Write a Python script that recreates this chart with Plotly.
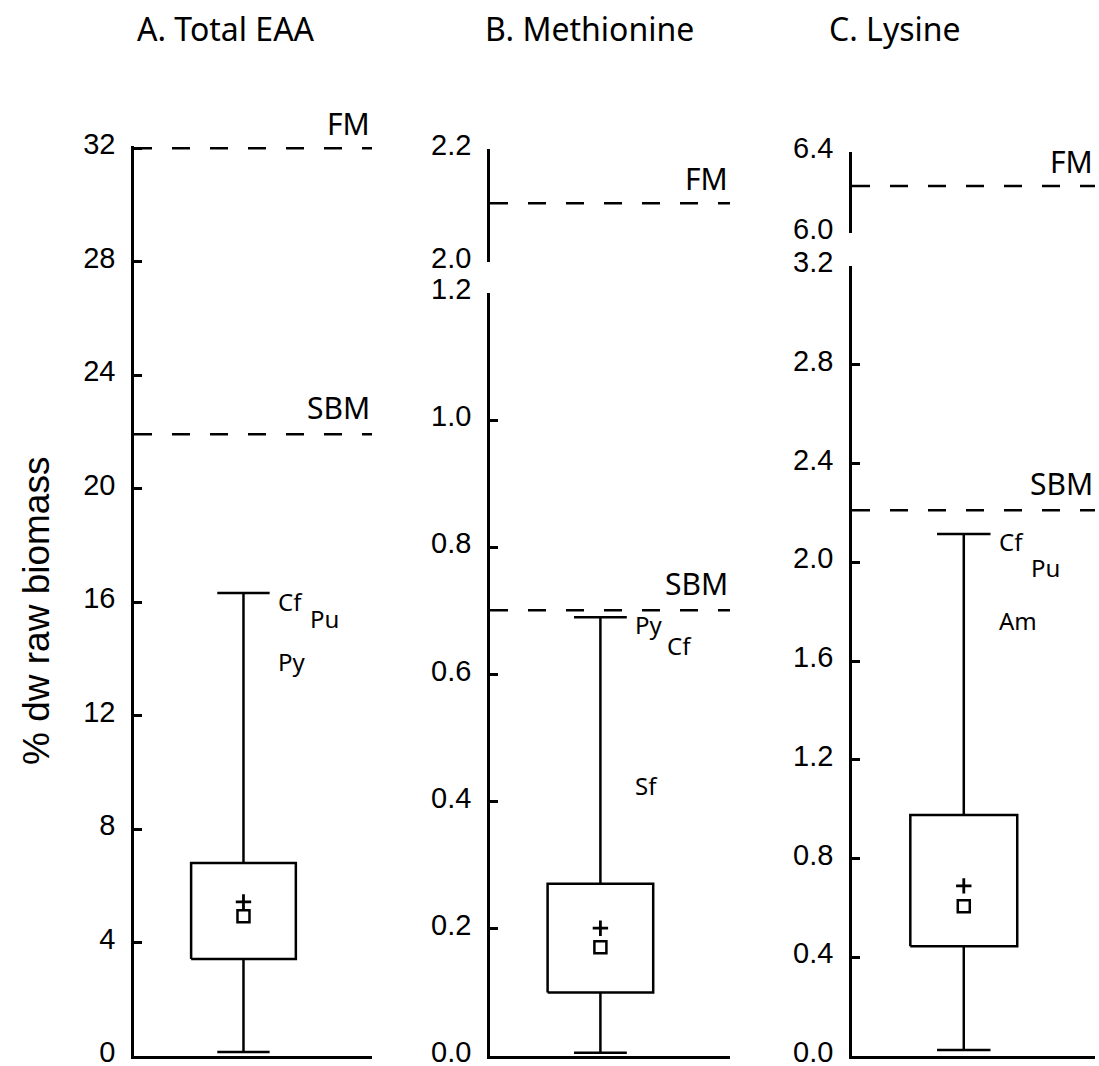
import plotly.graph_objects as go

W, H = 1099, 1066

# ---- data -------------------------------------------------------------
panel_titles = ["A. Total EAA", "B. Methionine", "C. Lysine"]

# box-plot statistics, % dry weight of raw biomass
q1 = [3.42, 0.100, 0.445]
q3 = [6.80, 0.271, 0.976]
whisker_low = [0.14, 0.005, 0.024]
whisker_high = [16.32, 0.690, 2.114]
medians = [4.93, 0.171, 0.607]
means = [5.43, 0.201, 0.689]

# reference feed ingredients: fish meal (FM) and soybean meal (SBM)
fm_level = [32.0, 2.104, 6.232]
sbm_level = [21.92, 0.701, 2.211]

# highest-ranking species in each panel
species = [["Cf", "Pu", "Py"], ["Py", "Cf", "Sf"], ["Cf", "Pu", "Am"]]
species_vals = [[16.04, 15.44, 13.90], [0.678, 0.646, 0.426], [2.086, 1.980, 1.766]]
species_col = [[0, 1, 0], [0, 1, 0], [0, 1, 0]]

# tick values per axis segment
ticks_A = [0, 4, 8, 12, 16, 20, 24, 28, 32]
ticks_B_low = [0.0, 0.2, 0.4, 0.6, 0.8, 1.0, 1.2]
ticks_B_high = [2.0, 2.2]
ticks_C_low = [0.0, 0.4, 0.8, 1.2, 1.6, 2.0, 2.4, 2.8, 3.2]
ticks_C_high = [6.0, 6.4]

# ---- layout geometry (pixels) ------------------------------------------
def xdom(a, b):
    return [a / W, b / W]


def ydom(top, bottom):
    return [1 - bottom / H, 1 - top / H]


BLACK = "#000000"
LW = 2.5
TICK_FONT = dict(family="Arial, Liberation Sans", size=29, color=BLACK)
LABEL_FONT = "Noto Sans"

center, half_w, cap_w = 0.46, 0.22, 0.11

fig = go.Figure()

# which (x, y) axes hold the lower part of each panel, and where FM sits
lower_axes = [("x", "y"), ("x2", "y2"), ("x4", "y4")]
fm_axes = [("x", "y"), ("x3", "y3"), ("x5", "y5")]

for i in range(3):
    xa, ya = lower_axes[i]
    # box
    fig.add_trace(go.Scatter(
        x=[center - half_w, center + half_w, center + half_w, center - half_w, center - half_w],
        y=[q1[i], q1[i], q3[i], q3[i], q1[i]],
        mode="lines", line=dict(color=BLACK, width=LW),
        xaxis=xa, yaxis=ya, showlegend=False, hoverinfo="skip"))
    # whiskers with caps
    fig.add_trace(go.Scatter(
        x=[center, center, None, center - cap_w, center + cap_w, None,
           center, center, None, center - cap_w, center + cap_w],
        y=[q3[i], whisker_high[i], None, whisker_high[i], whisker_high[i], None,
           q1[i], whisker_low[i], None, whisker_low[i], whisker_low[i]],
        mode="lines", line=dict(color=BLACK, width=LW),
        xaxis=xa, yaxis=ya, showlegend=False, hoverinfo="skip"))
    # median (square) and mean (plus)
    fig.add_trace(go.Scatter(
        x=[center], y=[medians[i]], mode="markers",
        marker=dict(symbol="square-open", size=12, color=BLACK, line=dict(width=LW)),
        xaxis=xa, yaxis=ya, showlegend=False, hoverinfo="skip", cliponaxis=False))
    fig.add_trace(go.Scatter(
        x=[center], y=[means[i]], mode="markers",
        marker=dict(symbol="cross-thin-open", size=11, color=BLACK, line=dict(width=2.8)),
        xaxis=xa, yaxis=ya, showlegend=False, hoverinfo="skip", cliponaxis=False))
    # SBM reference
    fig.add_trace(go.Scatter(
        x=[0, 1], y=[sbm_level[i], sbm_level[i]], mode="lines",
        line=dict(color=BLACK, width=LW, dash="18px,20px"),
        xaxis=xa, yaxis=ya, showlegend=False, hoverinfo="skip"))
    # FM reference
    fxa, fya = fm_axes[i]
    fig.add_trace(go.Scatter(
        x=[0, 1], y=[fm_level[i], fm_level[i]], mode="lines",
        line=dict(color=BLACK, width=LW, dash="18px,20px"),
        xaxis=fxa, yaxis=fya, showlegend=False, hoverinfo="skip"))

annotations = []
for i in range(3):
    xa, ya = lower_axes[i]
    fxa, fya = fm_axes[i]
    annotations.append(dict(text="FM", x=1.0, xref=f"{fxa} domain", y=fm_level[i], yref=fya,
                            xanchor="right", yanchor="middle", yshift=25, showarrow=False,
                            font=dict(family=LABEL_FONT, size=30, color=BLACK)))
    annotations.append(dict(text="SBM", x=1.0, xref=f"{xa} domain", y=sbm_level[i], yref=ya,
                            xanchor="right", yanchor="middle", yshift=27, showarrow=False,
                            font=dict(family=LABEL_FONT, size=30, color=BLACK)))
    for name, val, col in zip(species[i], species_vals[i], species_col[i]):
        annotations.append(dict(text=name, x=0.595 + 0.135 * col, xref=xa, y=val, yref=ya,
                                xanchor="left", yanchor="middle", showarrow=False,
                                font=dict(family=LABEL_FONT, size=24, color=BLACK)))

# panel titles
for title, cx in zip(panel_titles, [226, 589, 895]):
    annotations.append(dict(text=title, x=cx / W, xref="paper", y=1 - 29 / H, yref="paper",
                            xanchor="center", yanchor="middle", showarrow=False,
                            font=dict(family=LABEL_FONT, size=32, color=BLACK)))

# shared y title
annotations.append(dict(text="% dw raw biomass", x=36 / W, xref="paper", y=1 - 611 / H, yref="paper",
                        xanchor="center", yanchor="middle", textangle=-90, showarrow=False,
                        font=dict(family="Arial, Liberation Sans", size=37, color=BLACK)))


def yaxis_style(rng, vals, fmt, dom, anchor):
    return dict(domain=dom, range=rng, autorange=False, tickvals=vals, tickformat=fmt,
                ticks="inside", ticklen=8, tickwidth=LW, tickcolor=BLACK,
                showline=True, linewidth=LW, linecolor=BLACK, showgrid=False,
                zeroline=False, tickfont=TICK_FONT, anchor=anchor,
                ticklabelstandoff=10, ticklabelshift=-4,
                automargin=False, ticklabeloverflow="allow")


def xaxis_style(dom, anchor, visible=True):
    return dict(domain=dom, range=[0, 1], autorange=False, showline=visible, linewidth=LW,
                linecolor=BLACK, showticklabels=False, ticks="", showgrid=False,
                zeroline=False, anchor=anchor, visible=visible, automargin=False)


def break_mark(parent, rng, val, anchor):
    # short outward tick that marks an axis break
    return dict(overlaying=parent, range=rng, autorange=False, tickvals=[val],
                ticks="outside", ticklen=8, tickwidth=LW, tickcolor=BLACK,
                showticklabels=False, showline=False, showgrid=False, zeroline=False,
                anchor=anchor, side="left", automargin=False)


fig.update_layout(
    template="none",
    width=W, height=H, margin=dict(l=0, r=0, t=0, b=0, autoexpand=False),
    paper_bgcolor="white", plot_bgcolor="white", showlegend=False,
    xaxis=xaxis_style(xdom(134, 372), "y"),
    yaxis=yaxis_style([0, 32.08], ticks_A, "d", ydom(146, 1056), "x"),
    xaxis2=xaxis_style(xdom(490, 730), "y2"),
    yaxis2=yaxis_style([0, 1.2], ticks_B_low, ".1f", ydom(293, 1056), "x2"),
    xaxis3=xaxis_style(xdom(490, 730), "y3", visible=False),
    yaxis3=yaxis_style([2.0, 2.2], ticks_B_high, ".1f", ydom(149, 262), "x3"),
    xaxis4=xaxis_style(xdom(852, 1095), "y4"),
    yaxis4=yaxis_style([0, 3.2], ticks_C_low, ".1f", ydom(266, 1056), "x4"),
    xaxis5=xaxis_style(xdom(852, 1095), "y5", visible=False),
    yaxis5=yaxis_style([6.0, 6.4], ticks_C_high, ".1f", ydom(152, 233), "x5"),
    yaxis6=break_mark("y3", [2.0, 2.2], 2.0, "x3"),
    yaxis7=break_mark("y2", [0, 1.2], 1.2, "x2"),
    yaxis8=break_mark("y5", [6.0, 6.4], 6.0, "x5"),
    yaxis9=break_mark("y4", [0, 3.2], 3.2, "x4"),
    annotations=annotations,
)

fig.write_html("out.html")
